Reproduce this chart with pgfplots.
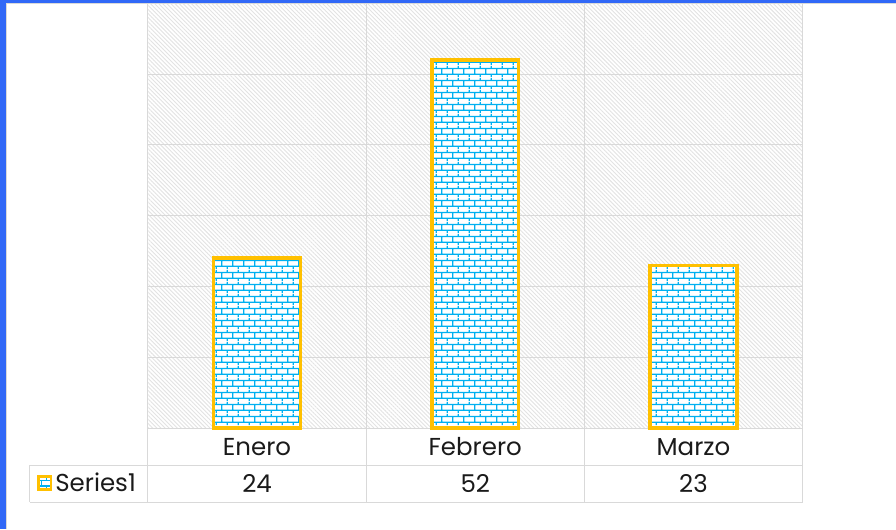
\documentclass[border=0pt]{standalone}
\usepackage{pgfplots}
\pgfplotsset{compat=1.18}
\usepackage{fontspec}
\setmainfont{Poppins}
\usetikzlibrary{patterns,patterns.meta}

\definecolor{frameblue}{RGB}{49,104,247}
\definecolor{barorange}{RGB}{255,192,0}
\definecolor{brickblue}{RGB}{0,176,240}
\definecolor{gridgray}{RGB}{217,217,217}
\definecolor{textblack}{RGB}{26,26,26}

% brick pattern, rows about 6px, bricks about 11px
\pgfdeclarepatternformonly{bricksx}{\pgfqpoint{0pt}{0pt}}{\pgfqpoint{11pt}{11.6pt}}{\pgfqpoint{11pt}{11.6pt}}{
  \pgfsetlinewidth{1.3pt}
  \pgfpathmoveto{\pgfqpoint{0pt}{2.9pt}}\pgfpathlineto{\pgfqpoint{11pt}{2.9pt}}
  \pgfpathmoveto{\pgfqpoint{0pt}{8.7pt}}\pgfpathlineto{\pgfqpoint{11pt}{8.7pt}}
  \pgfpathmoveto{\pgfqpoint{2.75pt}{2.9pt}}\pgfpathlineto{\pgfqpoint{2.75pt}{8.7pt}}
  \pgfpathmoveto{\pgfqpoint{8.25pt}{8.7pt}}\pgfpathlineto{\pgfqpoint{8.25pt}{11.6pt}}
  \pgfpathmoveto{\pgfqpoint{8.25pt}{0pt}}\pgfpathlineto{\pgfqpoint{8.25pt}{2.9pt}}
  \pgfusepath{stroke}
}
\newcommand{\tabfont}{\fontsize{24.5}{28}\selectfont}

\begin{document}
\begin{tikzpicture}[x=1pt,y=1pt]
  % page frame (896 x 529)
  \path (0,0) rectangle (896,529);
  \fill[frameblue] (0,526) rectangle (896,529);
  \fill[frameblue] (0,0) rectangle (6,529);
  \draw[gridgray, line width=1pt] (6.5,0) -- (6.5,525.5) -- (896,525.5);

  \begin{axis}[
    at={(148pt,101pt)}, anchor=south west,
    scale only axis, width=655pt, height=425pt,
    xmin=-0.5, xmax=2.5, ymin=0, ymax=60,
    xtick={0,1,2}, xticklabels={Enero,Febrero,Marzo},
    minor xtick={0.5,1.5}, xminorgrids,
    ytick={0,10,...,60}, yticklabels={}, ymajorgrids,
    major tick length=0pt, minor tick length=0pt,
    axis line style={draw=gridgray, line width=1pt},
    grid style={draw=gridgray, line width=1pt},
    minor grid style={draw=gridgray, line width=1pt},
    axis background/.style={fill=white, postaction={pattern={Lines[angle=-45,distance=2.9pt,line width=0.9pt]}, pattern color=black!11}},
    xticklabel style={anchor=base, yshift=-27pt, font=\tabfont, text=textblack},
    ybar, bar width=87pt, clip=false,
    legend style={at={(axis description cs:-0.1695,-0.1294)}, anchor=west,
      draw=none, fill=none, inner sep=0pt, font=\tabfont, text=textblack},
    legend image code/.code={\draw[#1, line width=2.6pt] (0pt,-6.3pt) rectangle (12.6pt,6.3pt);},
  ]
    \addplot[draw=barorange, line width=3.5pt, fill=white,
      postaction={pattern=bricksx, pattern color=brickblue}]
      coordinates {(0,24) (1,52) (2,23)};
    \addlegendentry{\hspace{1pt}Series1}

    % data table: values row
    \node[font=\tabfont, text=textblack, anchor=base] at (axis cs:0,0) [yshift=-64pt] {24};
    \node[font=\tabfont, text=textblack, anchor=base] at (axis cs:1,0) [yshift=-64pt] {52};
    \node[font=\tabfont, text=textblack, anchor=base] at (axis cs:2,0) [yshift=-64pt] {23};
  \end{axis}

  % data table grid
  \draw[gridgray, line width=1pt] (30,64) -- (803,64);
  \draw[gridgray, line width=1pt] (30,27) -- (803,27);
  \draw[gridgray, line width=1pt] (30,27) -- (30,64);
  \foreach \xx in {148,367,585,803}
    \draw[gridgray, line width=1pt] (\xx,27) -- (\xx,101);
\end{tikzpicture}
\end{document}
